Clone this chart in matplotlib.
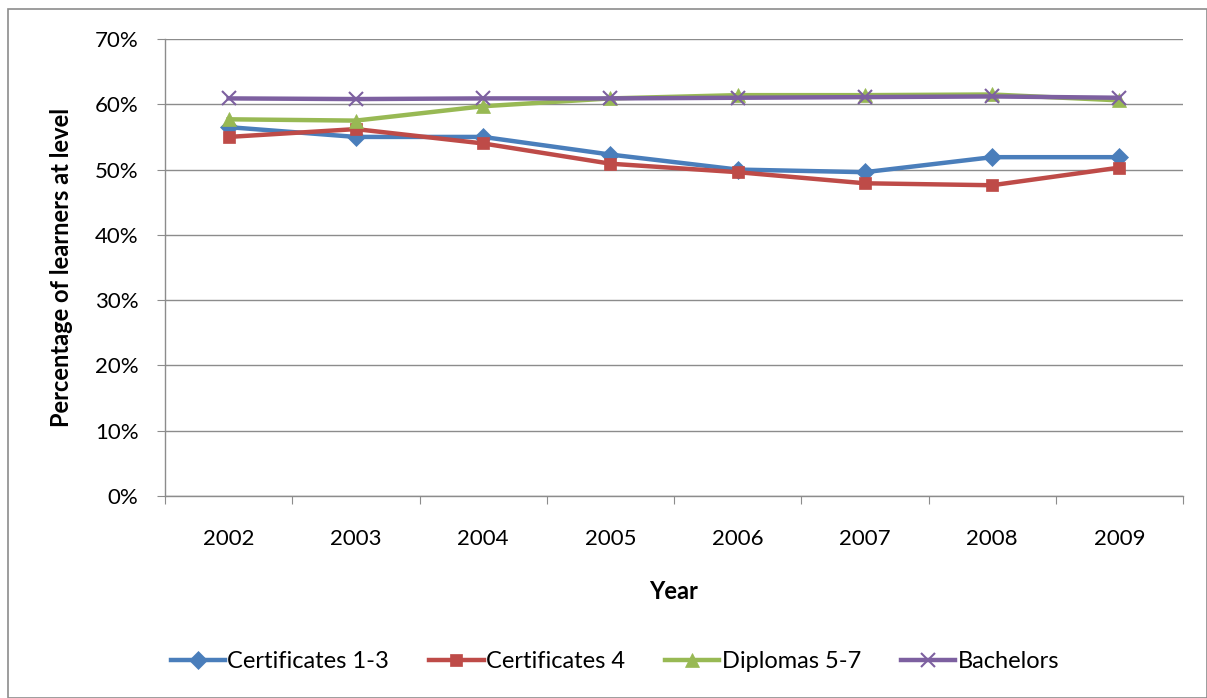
import matplotlib.pyplot as plt
import numpy as np
from matplotlib.patches import Rectangle

years = ["2002", "2003", "2004", "2005", "2006", "2007", "2008", "2009"]
cert_1_3 = [56.5, 55.0, 55.0, 52.3, 50.0, 49.6, 51.9, 51.9]
cert_4 = [55.0, 56.2, 54.0, 50.9, 49.6, 47.9, 47.6, 50.3]
diplomas = [57.7, 57.5, 59.7, 60.9, 61.4, 61.4, 61.5, 60.6]
bachelors = [60.9, 60.8, 60.9, 60.9, 61.0, 61.1, 61.2, 61.0]

series = [
    ("Certificates 1-3", cert_1_3, "#4A7EBB", "D", 9),
    ("Certificates 4", cert_4, "#BE4B48", "s", 9),
    ("Diplomas 5-7", diplomas, "#98B954", "^", 10),
    ("Bachelors", bachelors, "#7D60A0", "x", 10),
]

plt.rcParams['font.family'] = ['Lato', 'DejaVu Sans']

fig = plt.figure(figsize=(12.07, 6.98), dpi=100)
ax = fig.add_axes([165/1207, 1 - 496/698, 1018/1207, 457/698])

x = np.arange(len(years))
for name, vals, col, mk, ms in series:
    ax.plot(x, vals, color=col, lw=3.2, marker=mk, markersize=ms,
            markeredgewidth=1.5 if mk == "x" else 0.5, markeredgecolor=col,
            label=name, solid_joinstyle="round")

ax.set_xlim(-0.5, len(years) - 0.5)
ax.set_ylim(0, 70)
ax.set_yticks(range(0, 71, 10))
ax.set_yticklabels([f"{v}%" for v in range(0, 71, 10)])
ax.yaxis.grid(True, color="#8c8c8c", lw=1)
ax.set_axisbelow(True)

ax.set_xticks(np.arange(-0.5, len(years), 1.0))
ax.set_xticklabels([])
ax.set_xticks(x, minor=True)
ax.set_xticklabels(years, minor=True)
ax.tick_params(axis="x", which="major", length=6, color="#8c8c8c", direction="out")
ax.tick_params(axis="x", which="minor", length=0, pad=24, labelsize=16)
ax.tick_params(axis="y", length=6, color="#8c8c8c", labelsize=16, pad=13)

for s in ["top", "right"]:
    ax.spines[s].set_visible(False)
for s in ["left", "bottom"]:
    ax.spines[s].set_color("#8c8c8c")
    ax.spines[s].set_linewidth(1)

ax.set_xlabel("Year", fontsize=17, fontweight="bold", labelpad=22)
ax.set_ylabel("Percentage of learners at level", fontsize=17, fontweight="bold", labelpad=16)

fig.legend(*ax.get_legend_handles_labels(), loc="center",
           bbox_to_anchor=(615/1207, 1 - 662/698), ncol=4, frameon=False,
           fontsize=17, handlelength=2.3, columnspacing=1.7, handletextpad=0.1)

fig.patches.append(Rectangle((8/1207, 0), 1 - 8/1207, 1 - 9/698, transform=fig.transFigure,
                             fill=False, edgecolor="#8c8c8c", lw=1.2))

fig.savefig("out.png", dpi=100)
